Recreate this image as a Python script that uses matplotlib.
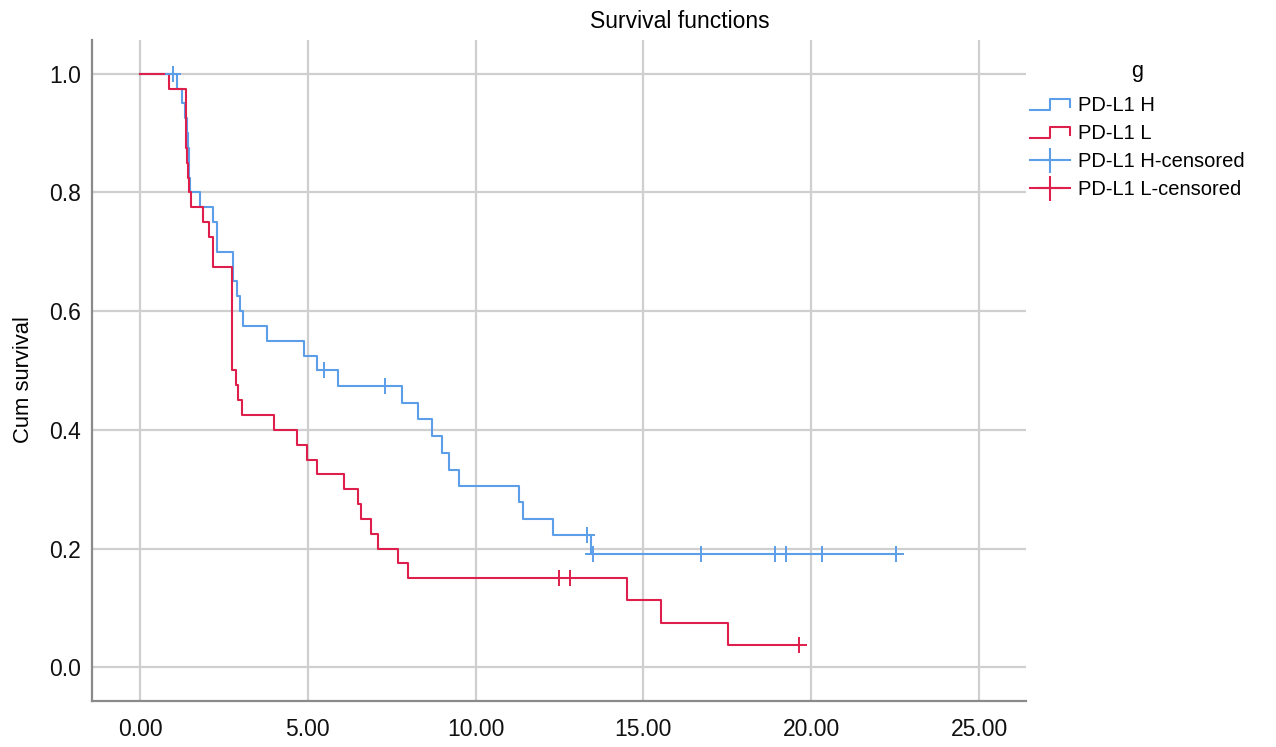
import matplotlib
matplotlib.use("Agg")
import matplotlib.pyplot as plt
from matplotlib.legend_handler import HandlerBase
from matplotlib.lines import Line2D
import numpy as np

plt.rcParams['font.family'] = ['Liberation Sans', 'DejaVu Sans']

# PD-L1 H: event times and survival after each event
h_times = [0.0, 1.11, 1.24, 1.34, 1.39, 1.42, 1.45, 1.47, 1.49, 1.79, 2.18, 2.28,
           2.78, 2.88, 2.98, 3.08, 3.79, 4.89, 5.28, 5.91, 7.80, 8.29, 8.69,
           9.01, 9.21, 9.52, 11.30, 11.42, 12.32, 13.43]
h_surv = [1.0, 0.975, 0.95, 0.925, 0.9, 0.875, 0.85, 0.825, 0.8, 0.775, 0.75, 0.70,
          0.65, 0.625, 0.6, 0.575, 0.55, 0.525, 0.5, 0.474, 0.445, 0.418, 0.389,
          0.361, 0.333, 0.306, 0.278, 0.25, 0.222, 0.19]
h_censored = [0.97, 5.48, 7.30, 13.31, 13.51, 16.72, 18.92, 19.24, 20.33, 22.53]

# PD-L1 L
l_times = [0.0, 0.86, 1.37, 1.40, 1.43, 1.47, 1.51, 1.89, 2.07, 2.18, 2.75, 2.85,
           2.93, 3.03, 4.00, 4.67, 4.97, 5.26, 6.09, 6.51, 6.58, 6.87, 7.10,
           7.70, 8.00, 14.50, 15.52, 17.53]
l_surv = [1.0, 0.975, 0.875, 0.85, 0.825, 0.8, 0.775, 0.75, 0.725, 0.675, 0.5, 0.475,
          0.45, 0.425, 0.4, 0.375, 0.35, 0.325, 0.3, 0.275, 0.25, 0.225, 0.2,
          0.175, 0.15, 0.1125, 0.075, 0.0375]
l_censored = [12.49, 12.81, 19.65]

x_ticks = [0, 5, 10, 15, 20, 25]
y_ticks = [0.0, 0.2, 0.4, 0.6, 0.8, 1.0]

BLUE = '#5c9ee8'
RED = '#de1f4c'
FS = 16.5
LEG_FS = 14.5


class HandlerStep(HandlerBase):
    # small step icon like the SPSS legend
    def create_artists(self, legend, orig_handle, xdescent, ydescent,
                       width, height, fontsize, trans):
        x0, x1 = -xdescent, -xdescent + width
        xm = (x0 + x1) / 2
        lo, hi = -ydescent + 0.05 * height, -ydescent + 0.85 * height
        line = Line2D([x0, xm, xm, x1, x1], [lo, lo, hi, hi, lo + 0.2 * height],
                      color=orig_handle.get_color(), lw=orig_handle.get_linewidth(),
                      transform=trans)
        return [line]


def km_curve(ax, times, surv, cens, color):
    t = np.array(times)
    s = np.array(surv)
    end = max(max(cens), t[-1])
    ax.step(np.append(t, end), np.append(s, s[-1]), where='post',
            color=color, lw=1.5, zorder=3)
    c = np.array(cens)
    idx = np.searchsorted(t, c, side='right') - 1
    ax.plot(c, s[idx], ls='none', marker='+', ms=11, mew=1.4,
            color=color, zorder=4)


fig = plt.figure(figsize=(12.76, 7.47), dpi=100)
ax = fig.add_axes([92 / 1276, 1 - 701 / 747, (1026 - 92) / 1276, (701 - 40) / 747])

km_curve(ax, h_times, h_surv, h_censored, BLUE)
km_curve(ax, l_times, l_surv, l_censored, RED)

ax.set_xlim(-1.43, 26.4)
ax.set_ylim(-0.057, 1.057)
ax.set_xticks(x_ticks)
ax.set_xticklabels([f'{v:.2f}' for v in x_ticks])
ax.set_yticks(y_ticks)
ax.set_yticklabels([f'{v:.1f}' for v in y_ticks])
ax.tick_params(axis='both', length=0, labelsize=FS, colors='#111111')
ax.tick_params(axis='x', pad=12)
ax.tick_params(axis='y', pad=8)
ax.grid(True, color='#cfcfcf', lw=1.6, zorder=0)
ax.set_axisbelow(True)
for side in ['top', 'right']:
    ax.spines[side].set_visible(False)
for side in ['left', 'bottom']:
    ax.spines[side].set_color('#8a8a8a')
    ax.spines[side].set_linewidth(1.6)

fig.text(680 / 1276, 1 - 22 / 747, 'Survival functions', ha='center', va='center',
         fontsize=FS)
fig.text(24 / 1276, 1 - 380 / 747, 'Cum survival', ha='center', va='center',
         rotation=90, fontsize=15.8)

h_line = Line2D([], [], color=BLUE, lw=1.5)
l_line = Line2D([], [], color=RED, lw=1.5)
h_cen = Line2D([], [], color=BLUE, lw=1.5, marker='+', ms=18, mew=1.5)
l_cen = Line2D([], [], color=RED, lw=1.5, marker='+', ms=18, mew=1.5)
leg = fig.legend([h_line, l_line, h_cen, l_cen],
                 ['PD-L1 H', 'PD-L1 L', 'PD-L1 H-censored', 'PD-L1 L-censored'],
                 title='g', title_fontsize=LEG_FS + 1, fontsize=LEG_FS, frameon=False,
                 loc='upper left', bbox_to_anchor=(1030 / 1276, 1 - 61 / 747),
                 borderpad=0, borderaxespad=0, handlelength=2.0, handletextpad=0.4,
                 labelspacing=0.45, numpoints=1,
                 handler_map={h_line: HandlerStep(), l_line: HandlerStep()})
leg._legend_box.sep = 10

fig.savefig('out.png', dpi=100)
